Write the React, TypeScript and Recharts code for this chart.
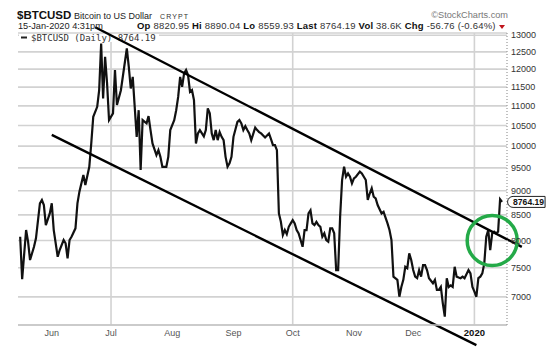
import React from 'react'
import {
  LineChart, Line, XAxis, YAxis, CartesianGrid, ReferenceLine, ReferenceDot, Customized,
} from 'recharts'

// daily closes (log price scale)
const dates = [
  '2019-05-16', '2019-05-17', '2019-05-19', '2019-05-20', '2019-05-21', '2019-05-23', '2019-05-24', '2019-05-26',
  '2019-05-27', '2019-05-28', '2019-05-29', '2019-05-31',
  '2019-06-01', '2019-06-02', '2019-06-04', '2019-06-05', '2019-06-07', '2019-06-08', '2019-06-09', '2019-06-10',
  '2019-06-11', '2019-06-13', '2019-06-14', '2019-06-15', '2019-06-17', '2019-06-18', '2019-06-20', '2019-06-21',
  '2019-06-22', '2019-06-24', '2019-06-25', '2019-06-26', '2019-06-27', '2019-06-28', '2019-06-29', '2019-06-30',
  '2019-07-02', '2019-07-03', '2019-07-04', '2019-07-06', '2019-07-09', '2019-07-10', '2019-07-11', '2019-07-12',
  '2019-07-14', '2019-07-15', '2019-07-16', '2019-07-17', '2019-07-19', '2019-07-20', '2019-07-21', '2019-07-22',
  '2019-07-24', '2019-07-25', '2019-07-26', '2019-07-27', '2019-07-29', '2019-07-30', '2019-07-31',
  '2019-08-02', '2019-08-03', '2019-08-04', '2019-08-05', '2019-08-06', '2019-08-07', '2019-08-08', '2019-08-09',
  '2019-08-10', '2019-08-11', '2019-08-12', '2019-08-13', '2019-08-14', '2019-08-15', '2019-08-17', '2019-08-18',
  '2019-08-19', '2019-08-20', '2019-08-21', '2019-08-22', '2019-08-23', '2019-08-24', '2019-08-25', '2019-08-26',
  '2019-08-27', '2019-08-28', '2019-08-29', '2019-08-30', '2019-08-31',
  '2019-09-01', '2019-09-03', '2019-09-04', '2019-09-05', '2019-09-06', '2019-09-07', '2019-09-08', '2019-09-09',
  '2019-09-10', '2019-09-12', '2019-09-13', '2019-09-14', '2019-09-15', '2019-09-17', '2019-09-19', '2019-09-20',
  '2019-09-21', '2019-09-22', '2019-09-23', '2019-09-24', '2019-09-25', '2019-09-26', '2019-09-27', '2019-09-28',
  '2019-09-29', '2019-09-30',
  '2019-10-01', '2019-10-02', '2019-10-03', '2019-10-04', '2019-10-06', '2019-10-07', '2019-10-08', '2019-10-09',
  '2019-10-10', '2019-10-11', '2019-10-12', '2019-10-13', '2019-10-14', '2019-10-15', '2019-10-16', '2019-10-17',
  '2019-10-18', '2019-10-19', '2019-10-20', '2019-10-21', '2019-10-22', '2019-10-23', '2019-10-24', '2019-10-25',
  '2019-10-26', '2019-10-27', '2019-10-28', '2019-10-29', '2019-10-30', '2019-10-31',
  '2019-11-01', '2019-11-02', '2019-11-04', '2019-11-05', '2019-11-06', '2019-11-07', '2019-11-08', '2019-11-09',
  '2019-11-10', '2019-11-11', '2019-11-12', '2019-11-13', '2019-11-15', '2019-11-16', '2019-11-18', '2019-11-19',
  '2019-11-20', '2019-11-21', '2019-11-23', '2019-11-24', '2019-11-25', '2019-11-26', '2019-11-27', '2019-11-28',
  '2019-11-29', '2019-11-30',
  '2019-12-01', '2019-12-02', '2019-12-03', '2019-12-04', '2019-12-05', '2019-12-06', '2019-12-07', '2019-12-08',
  '2019-12-09', '2019-12-11', '2019-12-12', '2019-12-13', '2019-12-14', '2019-12-15', '2019-12-16', '2019-12-17',
  '2019-12-18', '2019-12-19', '2019-12-20', '2019-12-21', '2019-12-22', '2019-12-23', '2019-12-24', '2019-12-25',
  '2019-12-26', '2019-12-27', '2019-12-29', '2019-12-30', '2019-12-31',
  '2020-01-01', '2020-01-02', '2020-01-03', '2020-01-04', '2020-01-05', '2020-01-06', '2020-01-07', '2020-01-08',
  '2020-01-09', '2020-01-10', '2020-01-11', '2020-01-12', '2020-01-13', '2020-01-14', '2020-01-15',
]

const closes = [
  8072, 7300, 8200, 7977, 7638, 7882, 8041, 8735,
  8804, 8700, 8296, 8528,
  8735, 8200, 7697, 7821, 8008, 7947, 7670, 8008,
  8072, 8233, 8735, 8980, 9340, 9123, 9524, 10065,
  10718, 10976, 11416, 12750, 11196, 12355, 11600, 10636,
  10807, 11973, 11022, 11416, 12600, 12066, 11462, 11780,
  10223, 10888, 9450, 10636, 10553, 10737, 10388, 10065,
  9790, 9906, 9750, 9524, 9524, 9750, 10388,
  10636, 10888, 11236, 11780, 11508, 11880, 11973, 11833,
  11370, 11416, 11152, 10065, 10306, 10388, 10233, 10388,
  10933, 10810, 10306, 10144, 10388, 10144, 10338, 10223,
  10144, 9750, 9524, 9600, 9750,
  10223, 10590, 10636, 10553, 10388, 10484, 10388, 10306,
  10144, 10450, 10388, 10338, 10306, 10208, 10306, 10170,
  10026, 10026, 9906, 8528, 8361, 8104, 8200, 8120,
  8263, 8330,
  8395, 8330, 8200, 8136, 7882, 8200, 8200, 8528,
  8591, 8330, 8296, 8361, 8296, 8263, 8072, 8136,
  8008, 7977, 8233, 8233, 8136, 7459, 7459, 8463,
  9230, 9524, 9302, 9376, 9302, 9158,
  9265, 9302, 9414, 9376, 9302, 9230, 8804, 8940,
  9050, 8873, 8836, 8700, 8528, 8560, 8330, 8200,
  8008, 7344, 7288, 7003, 7167, 7288, 7517, 7490,
  7760, 7638,
  7459, 7344, 7317, 7459, 7344, 7548, 7548, 7459,
  7317, 7230, 7288, 7116, 7116, 7167, 6894, 6680,
  7317, 7167, 7193, 7167, 7517, 7344, 7330, 7317,
  7344, 7317, 7459, 7400, 7167,
  7088, 7003, 7317, 7344, 7400, 7578, 8072, 8200,
  7821, 8136, 8168, 8136, 8168, 8820, 8764.19,
]

const monthTicks = ['2019-06-01', '2019-07-01', '2019-08-01', '2019-09-01', '2019-10-01', '2019-11-01', '2019-12-01', '2020-01-01']
const monthLabels = ['Jun', 'Jul', 'Aug', 'Sep', 'Oct', 'Nov', 'Dec', '2020']
const quarterLines = ['2019-07-01', '2019-10-01', '2020-01-01']
const priceTicks = [7000, 7500, 8000, 8500, 9000, 9500, 10000, 10500, 11000, 11500, 12000, 12500, 13000]

// hand-drawn channel + breakout circle
const upperChannelDates = ['2019-06-23', '2020-01-25']
const upperChannelValues = [13250, 7880]
const lowerChannelDates = ['2019-06-01', '2020-01-02']
const lowerChannelValues = [10270, 6245]
const breakoutDate = '2020-01-10'
const breakoutValue = 8000

const quoteLabels = ['Op', 'Hi', 'Lo', 'Last', 'Vol', 'Chg']
const quoteValues = ['8820.95', '8890.04', '8559.93', '8764.19', '38.6K', '-56.76 (-0.64%)']

const DAY = 86400000
const ts = (d: string) => Date.parse(d + 'T00:00:00Z')
const X_MIN = ts('2019-07-01') - 47.1 * DAY
const X_MAX = ts('2019-07-01') + 200.5 * DAY
const Y_MIN = 6550
const Y_MAX = 13070

const data = dates.map((d, i) => ({ t: ts(d), close: closes[i] }))
const last = data[data.length - 1]

const FONT = 'Arial, "Liberation Sans", sans-serif'
const GRID = '#d2d2d2'
const FRAME = '#c4c4c4'

const MonthTick = ({ x, y, payload }: any) => {
  const i = monthTicks.findIndex(m => ts(m) === payload.value)
  const isYear = monthLabels[i] === '2020'
  return (
    <text x={x} y={y} dy={7} textAnchor="middle" fontFamily={FONT} fontSize={isYear ? 9.5 : 9}
      fontWeight={isYear ? 'bold' : 'normal'} fill={isYear ? '#111' : '#555'}>
      {monthLabels[i]}
    </text>
  )
}

const LastTag = (props: any) => {
  const { viewBox } = props
  const cx = viewBox.x + viewBox.width / 2
  const cy = viewBox.y + viewBox.height / 2
  const l = cx + 6
  const r = cx + 43
  return (
    <g>
      <path d={`M${l + 5},${cy - 5.5} H${r} V${cy + 5.5} H${l + 5} A5.5,5.5 0 0 1 ${l + 5},${cy - 5.5} Z`}
        fill="#fff" stroke="#222" strokeWidth={1} />
      <text x={l + 5} y={cy + 3.2} fontFamily={FONT} fontSize={8.6} fontWeight="bold" fill="#111">
        {last.close.toFixed(2)}
      </text>
    </g>
  )
}

const LegendTag = () => (
  <g>
    <rect x={19} y={34} width={140} height={8} fill="#fff" />
    <line x1={21} x2={27} y1={37.5} y2={37.5} stroke="#222" strokeWidth={2} />
    <text x={31} y={41} fontFamily='"DejaVu Sans Mono", monospace' fontSize={9} fill="#333">
      $BTCUSD (Daily) {last.close.toFixed(2)}
    </text>
  </g>
)

export default function App() {
  return (
    <div style={{ position: 'absolute', left: 0, top: 0, width: 560, height: 347, background: '#fff' }}>
      <LineChart width={560} height={347} data={data} margin={{ top: 33, right: 8, bottom: 2, left: 18 }}>
        <CartesianGrid stroke={GRID} strokeWidth={1.6} verticalValues={quarterLines.map(ts)} />
        <XAxis type="number" dataKey="t" domain={[X_MIN, X_MAX]} allowDataOverflow ticks={monthTicks.map(ts)}
          interval={0} tick={<MonthTick />} tickLine={false} tickSize={0} tickMargin={4} height={20}
          axisLine={{ stroke: FRAME, strokeWidth: 1.6 }} />
        <XAxis xAxisId="frame" orientation="top" type="number" dataKey="t" domain={[X_MIN, X_MAX]} allowDataOverflow
          height={0} tick={false} tickLine={false} axisLine={{ stroke: FRAME, strokeWidth: 1.6 }} />
        <YAxis orientation="right" scale="log" domain={[Y_MIN, Y_MAX]} allowDataOverflow ticks={priceTicks}
          interval={0} width={45} tickLine={false} tickSize={0} tickMargin={4}
          axisLine={{ stroke: '#a0a0a0', strokeWidth: 1.3, strokeDasharray: '1 2' }}
          tick={{ fill: '#333', fontSize: 9, fontFamily: FONT }} />
        <YAxis yAxisId="frame" orientation="left" scale="log" domain={[Y_MIN, Y_MAX]} allowDataOverflow width={0}
          tick={false} tickLine={false} axisLine={{ stroke: FRAME, strokeWidth: 1.6 }} />
        <Customized component={<LegendTag />} />
        <Line type="linear" dataKey="close" stroke="#111" strokeWidth={2.2} dot={false} isAnimationActive={false} />
        <ReferenceLine
          segment={[
            { x: ts(upperChannelDates[0]), y: upperChannelValues[0] },
            { x: ts(upperChannelDates[1]), y: upperChannelValues[1] },
          ]}
          stroke="#000" strokeWidth={2.4} ifOverflow="visible" />
        <ReferenceLine
          segment={[
            { x: ts(lowerChannelDates[0]), y: lowerChannelValues[0] },
            { x: ts(lowerChannelDates[1]), y: lowerChannelValues[1] },
          ]}
          stroke="#000" strokeWidth={2.4} ifOverflow="visible" />
        <ReferenceDot x={ts(breakoutDate)} y={breakoutValue} r={25} fill="none" stroke="#24aa48" strokeWidth={3.5}
          ifOverflow="visible" />
        <ReferenceDot x={last.t} y={last.close} r={0} fill="none" stroke="none" ifOverflow="visible" label={LastTag} />
      </LineChart>

      {/* header */}
      <svg width={560} height={347} style={{ position: 'absolute', left: 0, top: 0, pointerEvents: 'none' }}>
        <text x={17} y={18.5} fontFamily={FONT} fontSize={11.5} fontWeight="bold" fill="#111">$BTCUSD</text>
        <text x={74} y={18.5} fontFamily={FONT} fontSize={9} fill="#222">Bitcoin to US Dollar</text>
        <text x={160} y={18.5} fontFamily={FONT} fontSize={7} letterSpacing={1.1} fill="#333">CRYPT</text>
        <text x={18} y={28.5} fontFamily={FONT} fontSize={9.2} fill="#222">15-Jan-2020 4:31pm</text>
        <text x={137} y={28.5} fontFamily={FONT} fontSize={9.5} letterSpacing={0.2} fill="#333">
          {quoteLabels.map((lab, i) => (
            <React.Fragment key={lab}>
              <tspan fontWeight="bold" fill="#111">{lab}</tspan>
              <tspan>{' ' + quoteValues[i] + ' '}</tspan>
            </React.Fragment>
          ))}
        </text>
        <path d="M499,25 L505,25 L502,29 Z" fill="#c0141c" />
        <text x={508} y={18} textAnchor="end" fontFamily={FONT} fontSize={9.2} fill="#777">©StockCharts.com</text>
      </svg>
    </div>
  )
}
